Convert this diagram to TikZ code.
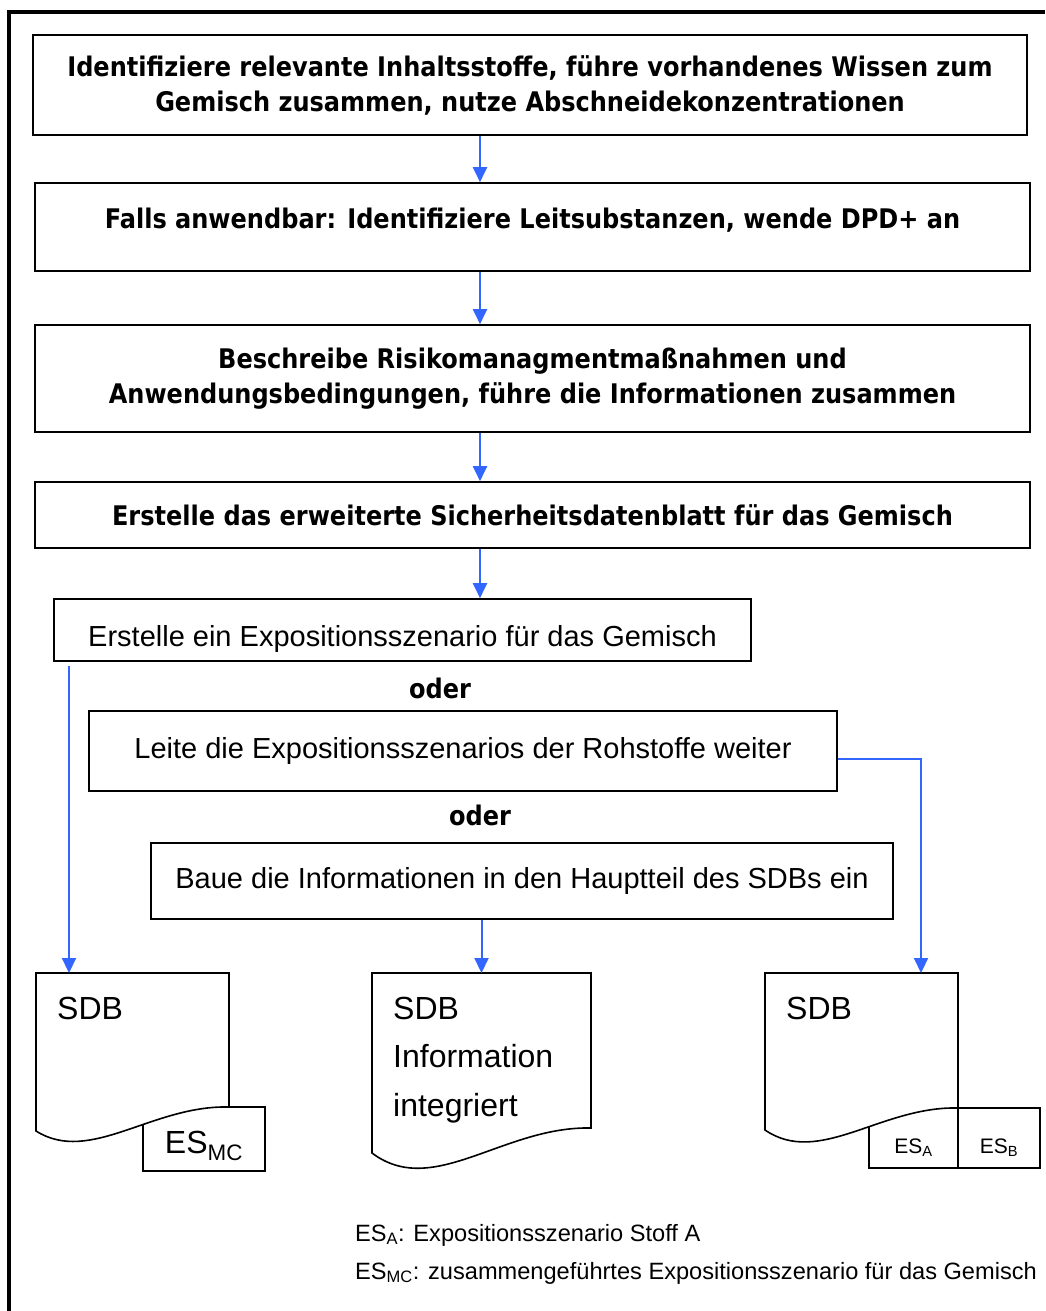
\documentclass[tikz,border=0pt]{standalone}
\usepackage{fontspec}
\setmainfont{Liberation Sans}
\newfontfamily\stepfont{DejaVu Sans}[FakeStretch=0.89]
\usetikzlibrary{arrows.meta}
\definecolor{flowblue}{RGB}{51,102,255}

\begin{document}
\begin{tikzpicture}[x=1pt,y=-1pt,
        boldbox/.style={rectangle,draw,line width=1.6pt,inner sep=0pt,align=center,font=\stepfont\bfseries\fontsize{27}{35}\selectfont},
        plainbox/.style={rectangle,draw,line width=1.6pt,inner sep=0pt,font=\fontsize{29}{35}\selectfont},
        oder/.style={font=\stepfont\bfseries\fontsize{27}{35}\selectfont},
        sheet/.style={draw,fill=white,line width=1.6pt},
        estab/.style={rectangle,draw,fill=white,line width=1.6pt,inner sep=0pt},
        doctext/.style={inner sep=0pt,anchor=west,align=left,font=\fontsize{32}{48.5}\selectfont},
        keytext/.style={inner sep=0pt,anchor=west,font=\fontsize{23.6}{28}\selectfont},
        flow/.style={draw=flowblue,line width=2pt,-{Triangle[width=14pt,length=15pt]}}]
        \useasboundingbox (0,0) rectangle (1045,1311);
        \draw [line width=4pt] (9,1311) -- (9,12) -- (1045,12);

        \draw (530,85) node (b1) [boldbox,minimum width=994pt,minimum height=100pt] {Identifiziere relevante Inhaltsstoffe, führe vorhandenes Wissen zum\\Gemisch zusammen, nutze Abschneidekonzentrationen};
        \draw (532.5,227) node (b2) [boldbox,minimum width=995pt,minimum height=88pt,text depth=18pt] {Falls anwendbar: Identifiziere Leitsubstanzen, wende DPD+ an};
        \draw (532.5,378.5) node (b3) [boldbox,minimum width=995pt,minimum height=107pt] {Beschreibe Risikomanagmentmaßnahmen und\\Anwendungsbedingungen, führe die Informationen zusammen};
        \draw (532.5,515) node (b4) [boldbox,minimum width=995pt,minimum height=66pt] {Erstelle das erweiterte Sicherheitsdatenblatt für das Gemisch};

        \draw (402.5,630) node (b5) [plainbox,minimum width=697pt,minimum height=62pt,text height=39pt] {Erstelle ein Expositionsszenario für das Gemisch};
        \draw (440,688) node (or1) [oder] {oder};
        \draw (463,751) node (b6) [plainbox,minimum width=748pt,minimum height=80pt] {Leite die Expositionsszenarios der Rohstoffe weiter};
        \draw (480,815) node (or2) [oder] {oder};
        \draw (522,881) node (b7) [plainbox,minimum width=742pt,minimum height=76pt] {Baue die Informationen in den Hauptteil des SDBs ein};

        \draw (204,1139) node (esmc) [estab,minimum width=122pt,minimum height=64pt,text height=36pt,font=\fontsize{32}{36}\selectfont] {ES\textsubscript{MC}};
        \draw [sheet] (36,973) -- (229,973) -- (229,1107) .. controls (152,1105) and (90,1165) .. (36,1131) -- cycle;
        \draw (57,1008) node (sdb1) [doctext] {SDB};

        \draw [sheet] (372,973) -- (591,973) -- (591,1128) .. controls (503,1126) and (433,1199) .. (372,1153) -- cycle;
        \draw (393,1060) node (sdb2) [doctext] {SDB\\Information\\integriert};

        \draw (913.5,1138) node (esa) [estab,minimum width=89pt,minimum height=60pt,text height=34pt,font=\fontsize{21}{24}\selectfont] {ES\textsubscript{A}};
        \draw (999,1138) node (esb) [estab,minimum width=82pt,minimum height=60pt,text height=34pt,font=\fontsize{21}{24}\selectfont] {ES\textsubscript{B}};
        \draw [sheet] (765,973) -- (958,973) -- (958,1108) .. controls (881,1106) and (819,1167) .. (765,1130) -- cycle;
        \draw (786,1008) node (sdb3) [doctext] {SDB};

        \coordinate (axis) at (480,0);
        \coordinate (ax1) at (69,0);
        \coordinate (ax3) at (921,0);
        \coordinate (d1) at (132.5,973);
        \coordinate (d2) at (481.5,973);
        \coordinate (d3) at (861.5,973);

        \draw [flow] (b1.south -| axis) to (b2.north -| axis);
        \draw [flow] (b2.south -| axis) to (b3.north -| axis);
        \draw [flow] (b3.south -| axis) to (b4.north -| axis);
        \draw [flow] (b4.south -| axis) to (b5.north -| axis);
        \draw [flow,shorten <=4pt] (b5.south -| ax1) to (d1 -| ax1);
        \draw [flow] (b7.south -| d2) to (d2);
        \draw [flow] ([yshift=-8pt]b6.east) -| (d3 -| ax3);

        \draw (355,1235) node (key1) [keytext] {ES\textsubscript{A}: Expositionsszenario Stoff A};
        \draw (355,1273) node (key2) [keytext] {ES\textsubscript{MC}: zusammengeführtes Expositionsszenario für das Gemisch};
    \end{tikzpicture}
\end{document}
